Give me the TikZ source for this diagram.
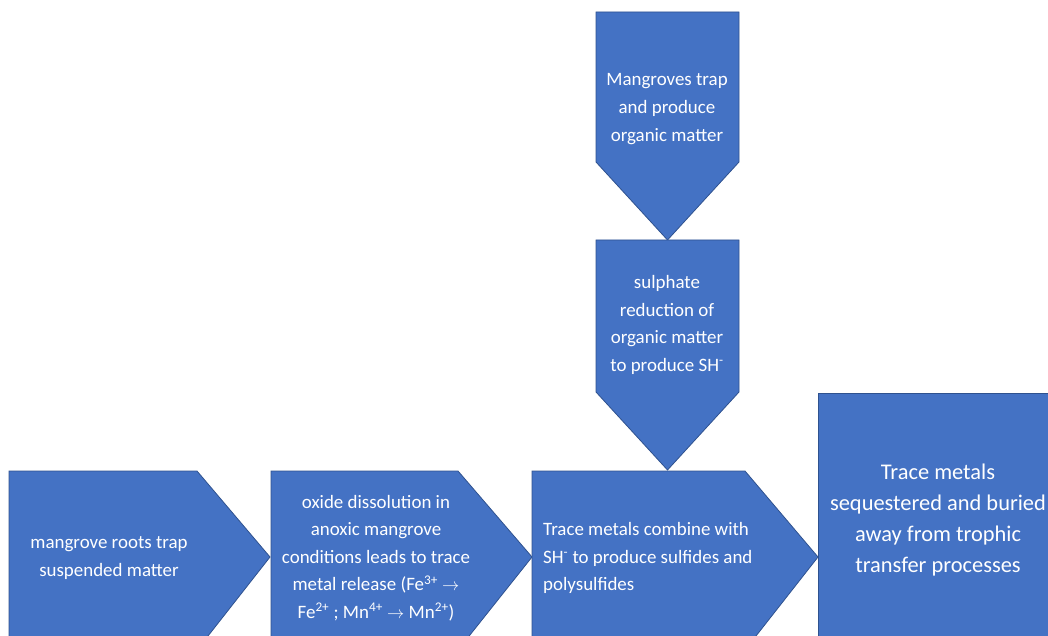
\documentclass[tikz,border=0pt]{standalone}
\usepackage{fontspec}
\setmainfont{Carlito}
\definecolor{boxblue}{HTML}{4472C4}
\definecolor{boxedge}{HTML}{2F528F}
\begin{document}
\begin{tikzpicture}[x=1bp,y=-1bp,
  shp/.style={fill=boxblue, draw=boxedge, line width=0.8bp, line join=miter},
  lbl/.style={text=white, inner sep=0pt, align=center, font=\fontsize{19}{27.5}\selectfont},
  biglbl/.style={text=white, inner sep=0pt, align=center, font=\fontsize{22.5}{31.3}\selectfont}]
\useasboundingbox (0,0) rectangle (1048,636);
\clip (0,0) rectangle (1048,636);
% shapes
\path[shp] (596,12) -- (739,12) -- (739,162) -- (667.5,240) -- (596,162) -- cycle;
\path[shp] (596,240) -- (739,240) -- (739,392) -- (667.5,470) -- (596,392) -- cycle;
\path[shp] (9,471) -- (197,471) -- (270,557) -- (197,650) -- (9,650) -- cycle;
\path[shp] (271,471) -- (458,471) -- (532,557) -- (458,650) -- (271,650) -- cycle;
\path[shp] (532,471) -- (745,471) -- (818,557) -- (745,650) -- (532,650) -- cycle;
\path[shp] (818,393) rectangle (1060,650);
% labels
\node[lbl, font=\fontsize{19}{28}\selectfont] (ta) at (667,109) {Mangroves trap\\and produce\\organic matter};
\node[lbl] (tb) at (667,325) {sulphate\\reduction of\\organic matter\\to produce SH\textsuperscript{-}};
\node[lbl] (t1) at (109,558) {mangrove roots trap\\suspended matter};
\node[lbl] (t2) at (376,558) {oxide dissolution in\\anoxic mangrove\\conditions leads to trace\\metal release (Fe\textsuperscript{3+} $\rightarrow$\\Fe\textsuperscript{2+} ; Mn\textsuperscript{4+} $\rightarrow$ Mn\textsuperscript{2+})};
\node[lbl, align=left, anchor=west] (t3) at (543,558) {Trace metals combine with\\SH\textsuperscript{-} to produce sulfides and\\polysulfides};
\node[biglbl] (t4) at (938,520) {Trace metals\\sequestered and buried\\away from trophic\\transfer processes};
\end{tikzpicture}
\end{document}
